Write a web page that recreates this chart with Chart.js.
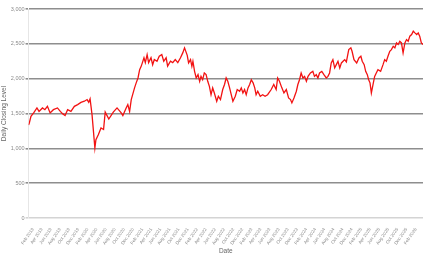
<!DOCTYPE html>
<html>
<head>
<meta charset="utf-8">
<script src="https://cdn.jsdelivr.net/npm/chart.js@4/dist/chart.umd.min.js"></script>
<style>
  html, body { margin: 0; padding: 0; background: #fff; }
  #wrap { width: 441px; height: 257px; }
</style>
</head>
<body>
<div id="wrap"><canvas id="closingChart"></canvas></div>
<script>
const dates = [
  '2019-01-02','2019-01-07','2019-01-18','2019-02-05','2019-02-27','2019-03-13','2019-04-05','2019-04-21',
  '2019-05-08','2019-05-26','2019-06-17','2019-07-14','2019-08-02','2019-08-17','2019-09-03','2019-09-20',
  '2019-10-12','2019-11-04','2019-11-26','2019-12-18','2020-01-10','2020-01-28','2020-02-08','2020-02-17',
  '2020-03-01','2020-03-20','2020-03-27','2020-04-12','2020-04-30','2020-05-17','2020-05-28','2020-06-21',
  '2020-07-21','2020-08-15','2020-09-12','2020-09-23','2020-10-15','2020-10-26','2020-11-07','2020-11-18',
  '2020-12-10','2020-12-21','2021-01-02','2021-01-13','2021-01-24','2021-02-11','2021-02-20','2021-03-04',
  '2021-03-14','2021-03-30','2021-04-10','2021-04-21','2021-05-09','2021-05-24','2021-06-10','2021-06-23',
  '2021-07-09','2021-07-19','2021-08-07','2021-08-22','2021-09-08','2021-09-25','2021-10-13','2021-10-28',
  '2021-11-09','2021-11-27','2021-12-06','2021-12-19','2021-12-28','2022-01-04','2022-01-15','2022-01-26',
  '2022-02-07','2022-02-18','2022-02-27','2022-03-10','2022-03-21','2022-04-02','2022-04-13','2022-04-24',
  '2022-05-05','2022-05-16','2022-05-27','2022-06-12','2022-06-23','2022-07-07','2022-07-22','2022-08-03',
  '2022-08-14','2022-08-25','2022-09-06','2022-09-17','2022-09-28','2022-10-14','2022-10-27','2022-11-12',
  '2022-11-23','2022-12-04','2022-12-15','2022-12-26','2023-01-07','2023-01-18','2023-01-29','2023-02-10',
  '2023-02-21','2023-03-02','2023-03-13','2023-03-30','2023-04-15','2023-05-01','2023-05-18','2023-06-11',
  '2023-06-28','2023-07-14','2023-07-24','2023-08-05','2023-08-21','2023-09-04','2023-09-20','2023-10-05',
  '2023-10-18','2023-10-27','2023-11-10','2023-11-26','2023-12-06','2023-12-17','2023-12-28','2024-01-09',
  '2024-01-20','2024-02-01','2024-02-12','2024-02-28','2024-03-15','2024-03-26','2024-04-07','2024-04-18',
  '2024-04-29','2024-05-14','2024-05-28','2024-06-13','2024-06-24','2024-07-05','2024-07-16','2024-07-27',
  '2024-08-08','2024-08-19','2024-08-30','2024-09-11','2024-09-22','2024-10-03','2024-10-14','2024-10-25',
  '2024-11-10','2024-11-24','2024-12-02','2024-12-15','2025-01-02','2025-01-17','2025-01-30','2025-02-08',
  '2025-02-21','2025-03-03','2025-03-14','2025-03-23','2025-04-01','2025-04-10','2025-04-21','2025-05-02',
  '2025-05-13','2025-05-24','2025-06-11','2025-06-27','2025-07-08','2025-07-19','2025-07-30','2025-08-11',
  '2025-08-22','2025-09-03','2025-09-14','2025-09-25','2025-10-06','2025-10-17','2025-10-28','2025-11-08',
  '2025-11-20','2025-12-01','2025-12-12','2025-12-23','2026-01-04','2026-01-15','2026-01-26','2026-02-07',
  '2026-02-17','2026-02-27','2026-03-10','2026-03-21'
];

const closes = [
  1335, 1364, 1460, 1508, 1580, 1530, 1580, 1555,
  1603, 1508, 1555, 1580, 1530, 1498, 1470, 1555,
  1530, 1603, 1628, 1660, 1676, 1700, 1660, 1710,
  1484, 1004, 1124, 1196, 1292, 1270, 1520, 1420,
  1520, 1580, 1510, 1470, 1580, 1628, 1530, 1700,
  1868, 1940, 2010, 2130, 2180, 2300, 2230, 2345,
  2230, 2300, 2200, 2275, 2250, 2322, 2345, 2250,
  2300, 2180, 2250, 2230, 2275, 2230, 2300, 2370,
  2442, 2335, 2226, 2273, 2177, 2250, 2105, 2010,
  2058, 1962, 2033, 1985, 2082, 2058, 1962, 1890,
  1770, 1868, 1795, 1676, 1748, 1700, 1844, 1916,
  2010, 1962, 1868, 1770, 1676, 1748, 1844, 1820,
  1868, 1795, 1844, 1770, 1868, 1916, 1985, 1940,
  1868, 1770, 1820, 1748, 1770, 1748, 1770, 1844,
  1916, 1844, 2010, 1962, 1868, 1795, 1844, 1724,
  1700, 1652, 1724, 1820, 1916, 1985, 2082, 2010,
  2033, 1962, 2033, 2082, 2105, 2033, 2058, 2010,
  2082, 2105, 2058, 2010, 2033, 2082, 2226, 2273,
  2154, 2201, 2250, 2154, 2226, 2250, 2273, 2240,
  2417, 2442, 2393, 2273, 2226, 2298, 2322, 2250,
  2201, 2105, 2058, 1985, 1940, 1795, 1916, 2033,
  2082, 2130, 2105, 2201, 2273, 2250, 2322, 2393,
  2417, 2465, 2442, 2513, 2490, 2537, 2513, 2370,
  2513, 2561, 2537, 2610, 2633, 2681, 2657, 2633,
  2657, 2610, 2513, 2490
];

const yTicks = [0, 500, 1000, 1500, 2000, 2500, 3000];
const monthNames = ['Jan','Feb','Mar','Apr','May','Jun','Jul','Aug','Sep','Oct','Nov','Dec'];

// x axis is days since epoch, so uneven trading dates keep their spacing
function dayNum(s) {
  const p = s.split('-');
  return Date.UTC(+p[0], +p[1] - 1, +p[2]) / 86400000;
}

// tick every second month, Feb 2019 .. Feb 2026
const xTicks = [];
for (let y = 2019; y <= 2026; y++) {
  for (let m = 1; m < 12; m += 2) {
    if (y === 2026 && m > 1) break;
    xTicks.push(Date.UTC(y, m, 1) / 86400000);
  }
}

const points = dates.map((d, i) => ({ x: dayNum(d), y: closes[i] }));

new Chart(document.getElementById('closingChart'), {
  type: 'line',
  data: {
    datasets: [{
      data: points,
      borderColor: '#f21212',
      borderWidth: 1.3,
      pointRadius: 0,
      tension: 0,
      fill: false
    }]
  },
  options: {
    responsive: true,
    maintainAspectRatio: false,
    animation: false,
    layout: { padding: { top: 9, right: 18, bottom: 0, left: 0 } },
    plugins: { legend: { display: false }, tooltip: { enabled: false } },
    scales: {
      x: {
        type: 'linear',
        min: points[0].x,
        max: points[points.length - 1].x,
        afterBuildTicks: scale => { scale.ticks = xTicks.map(v => ({ value: v })); },
        afterFit: scale => { scale.height = 39; },
        grid: { display: false },
        border: { display: false },
        ticks: {
          autoSkip: false,
          minRotation: 55,
          maxRotation: 55,
          padding: 1,
          color: '#8a8a8a',
          font: { family: 'Liberation Sans', size: 4.5 },
          callback: v => {
            const d = new Date(v * 86400000);
            return monthNames[d.getUTCMonth()] + ' ' + d.getUTCFullYear();
          }
        },
        title: {
          display: true,
          text: 'Date',
          color: '#666',
          padding: { top: 2, bottom: 2 },
          font: { family: 'Liberation Sans', size: 6.5 }
        }
      },
      y: {
        min: 0,
        max: 3000,
        afterBuildTicks: scale => { scale.ticks = yTicks.map(v => ({ value: v })); },
        grid: {
          color: ctx => ctx.tick && ctx.tick.value === 0 ? '#d4d4d4' : '#8e8e8e',
          lineWidth: 1.6,
          tickLength: 3
        },
        border: { color: '#e6e6e6', width: 1 },
        ticks: {
          padding: 1,
          color: '#8a8a8a',
          font: { family: 'Liberation Sans', size: 5.5 },
          callback: v => v.toLocaleString('en-US')
        },
        title: {
          display: true,
          text: 'Daily Closing Level',
          color: '#666',
          padding: { top: 0, bottom: 2 },
          font: { family: 'Liberation Sans', size: 6.5 }
        }
      }
    }
  }
});
</script>
</body>
</html>
